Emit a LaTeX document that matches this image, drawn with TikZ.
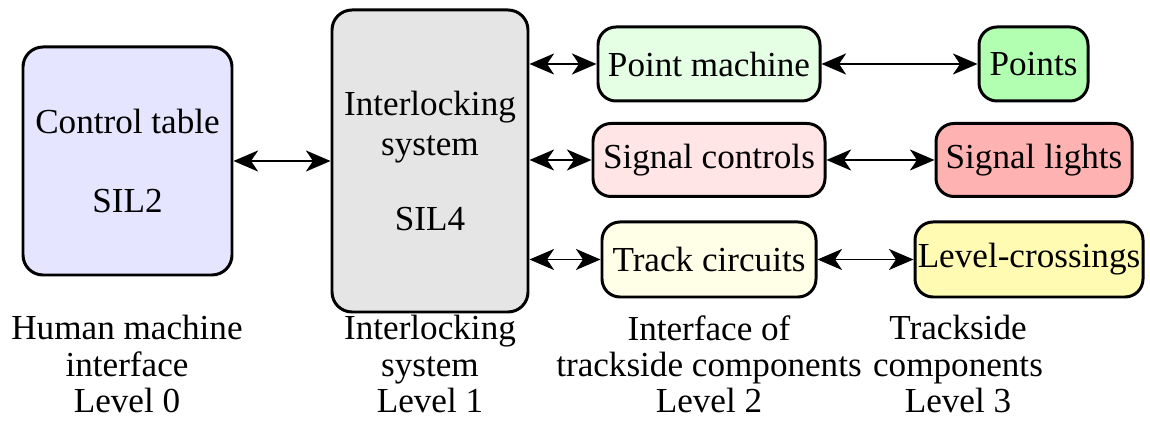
\documentclass[tikz,border=0pt]{standalone}
\usepackage{fontspec}
\setmainfont{Liberation Serif}
\usetikzlibrary{arrows.meta}
\begin{document}
\begin{tikzpicture}[x=0.02cm,y=-0.02cm,
  font=\fontsize{20}{20.5}\selectfont,
  box/.style={draw=black,line width=1.7pt,rounded corners=0.4cm,
    align=center,inner sep=0pt},
  lbl/.style={align=center,inner sep=0pt},
  link/.style={line width=0.75pt,{Stealth[length=14pt,width=12pt,inset=4pt]}-{Stealth[length=14pt,width=12pt,inset=4pt]}}]
\useasboundingbox (0,0) rectangle (1150,421);

% level 0 and level 1 blocks
\node[box,fill=blue!10,minimum width=0.02cm*209,minimum height=0.02cm*228]
  (ct) at (127.5,161) {Control table\\[25pt]SIL2};
\node[box,fill=black!10,minimum width=0.02cm*196,minimum height=0.02cm*302]
  (il) at (430,161) {Interlocking\\[2.5pt]system\\[22pt]SIL4};

% level 2 interfaces
\node[box,rounded corners=0.36cm,fill=green!10,minimum width=0.02cm*222,minimum height=0.02cm*74]
  (pm) at (709,64) {Point machine};
\node[box,rounded corners=0.36cm,fill=red!10,minimum width=0.02cm*232,minimum height=0.02cm*73]
  (sc) at (709,160) {Signal controls};
\node[box,rounded corners=0.36cm,fill=yellow!10,minimum width=0.02cm*214,minimum height=0.02cm*75]
  (tc) at (709,259.5) {Track circuits};

% level 3 trackside components
\node[box,rounded corners=0.36cm,fill=green!30,minimum width=0.02cm*109,minimum height=0.02cm*74]
  (pt) at (1033.5,64) {Points};
\node[box,rounded corners=0.36cm,fill=red!30,minimum width=0.02cm*196,minimum height=0.02cm*73]
  (sl) at (1034,160) {Signal lights};
\node[box,rounded corners=0.36cm,fill=yellow!30,minimum width=0.02cm*228,minimum height=0.02cm*75]
  (lc) at (1029,259.5) {Level-crossings};

% connectors
\draw[link] (ct.east) -- (ct.east -| il.west);
\draw[link] (il.east |- pm.west) -- (pm.west);
\draw[link] (il.east |- sc.west) -- (sc.west);
\draw[link] (il.east |- tc.west) -- (tc.west);
\draw[link] (pm.east) -- (pt.west);
\draw[link] (sc.east) -- (sl.west);
\draw[link] (tc.east) -- (lc.west);

% level captions
\node[lbl] (c0) at (127,364) {Human machine\\interface\\Level 0};
\node[lbl] (c1) at (430,364) {Interlocking\\system\\Level 1};
\node[lbl] (c2) at (709,364) {Interface of\\trackside components\\Level 2};
\node[lbl] (c3) at (958,364) {Trackside\\components\\Level 3};
\end{tikzpicture}
\end{document}
